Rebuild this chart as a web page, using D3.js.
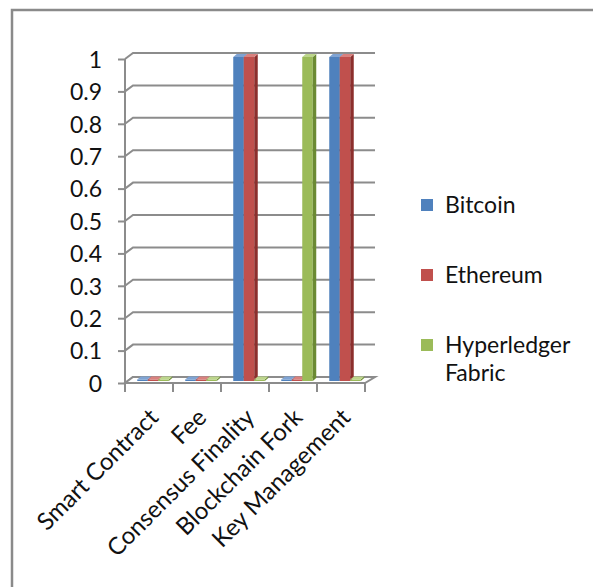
<!DOCTYPE html>
<html>
<head>
<meta charset="utf-8">
<script src="https://cdn.jsdelivr.net/npm/d3@7"></script>
<style>
  body { margin: 0; background: #fff; }
  text { font-family: Lato, "Open Sans", sans-serif; fill: #111; }
</style>
</head>
<body>
<div id="body"></div>
<script>
// chart data
var categories = ["Smart Contract", "Fee", "Consensus Finality", "Blockchain Fork", "Key Management"];
var seriesNames = ["Bitcoin", "Ethereum", "Hyperledger Fabric"];
var bitcoin = [0, 0, 1, 0, 1];
var ethereum = [0, 0, 1, 0, 1];
var hyperledger = [0, 0, 0, 1, 0];
var yTicks = [0, 0.1, 0.2, 0.3, 0.4, 0.5, 0.6, 0.7, 0.8, 0.9, 1];

var width = 593, height = 587;
var colors = { front: ["#4F81BD", "#C0504D", "#9BBB59"],
               side:  ["#2F5A8C", "#8C2F2D", "#6B8A33"],
               top:   ["#7FA3D3", "#D9817E", "#BCD58B"] };

// 3d depth of the back wall and of the bars
var DX = 8, DY = -6;
var barOff = [2, -2], barDepth = [3.5, -3];

var svg = d3.select('#body')
  .append('svg')
  .attr('width', width)
  .attr('height', height);

// frame (cropped chart border)
svg.append('path')
  .attr('d', 'M12,' + height + 'V10H' + width)
  .style('fill', 'none')
  .style('stroke', '#8a8a8a')
  .style('stroke-width', 2.5);

var x = d3.scaleBand().domain(categories).range([125, 365]);
var xs = d3.scaleBand().domain(seriesNames).range([0, 31.5]);
var y = d3.scaleLinear().domain([0, 1]).range([383, 59]);
var clusterLeft = (x.bandwidth() - xs.range()[1]) / 2 + 2;

var chart = svg.append('g').attr('id', 'chart');

// back wall gridlines + diagonal connectors
chart.selectAll('.grid')
  .data(yTicks)
  .enter()
  .append('path')
  .attr('class', 'grid')
  .attr('d', function(d) {
    return 'M125,' + y(d) + 'L' + (125 + DX) + ',' + (y(d) + DY) + 'H' + (x.range()[1] + DX + 2);
  })
  .style('fill', 'none')
  .style('stroke', '#8c8c8c')
  .style('stroke-width', 2);

// floor
chart.append('path')
  .attr('d', 'M125,' + y(0) + 'L' + (125 + DX) + ',' + (y(0) + DY) +
             'H' + (x.range()[1] + DX + 2) + 'L' + x.range()[1] + ',' + y(0) + 'Z')
  .style('fill', '#fff')
  .style('stroke', '#8c8c8c')
  .style('stroke-width', 2);

// y axis
var yAxis = chart.append('g')
  .attr('transform', 'translate(125,0)')
  .call(d3.axisLeft(y).tickValues(yTicks).tickSize(7).tickPadding(16)
        .tickFormat(function(d) { return d3.format('~g')(d); }));
yAxis.selectAll('line, path').style('stroke', '#8c8c8c').style('stroke-width', 2);
yAxis.select('.domain').attr('d', 'M0,' + y(1) + 'V' + (y(0) + 1));
yAxis.selectAll('text')
  .style('font-size', '23px')
  .style('font-family', 'Lato, sans-serif')
  .style('fill', '#111')
  .attr('dy', '0.36em');

// category ticks at band edges
var edges = categories.map(function(c) { return x(c); }).concat([x.range()[1]]);
chart.selectAll('.ctick')
  .data(edges)
  .enter()
  .append('line')
  .attr('x1', function(d) { return d; })
  .attr('x2', function(d) { return d; })
  .attr('y1', y(0))
  .attr('y2', y(0) + 9)
  .style('stroke', '#8c8c8c')
  .style('stroke-width', 2);

// bars
var rows = [];
[bitcoin, ethereum, hyperledger].forEach(function(vals, s) {
  vals.forEach(function(v, i) {
    rows.push({ cat: categories[i], s: s, name: seriesNames[s], v: v });
  });
});

var bar = chart.selectAll('.bar')
  .data(rows)
  .enter()
  .append('g')
  .attr('class', 'bar');

function bx(d) { return x(d.cat) + clusterLeft + xs(d.name) + barOff[0]; }
function btop(d) { return y(d.v) + barOff[1]; }
function bbot(d) { return y(0) + barOff[1]; }

bar.append('rect')
  .attr('x', bx)
  .attr('y', function(d) { return Math.min(btop(d), bbot(d) - 1.5); })
  .attr('width', xs.bandwidth())
  .attr('height', function(d) { return Math.max(bbot(d) - btop(d), 1.5); })
  .style('fill', function(d) { return colors.front[d.s]; });

bar.append('path')
  .attr('d', function(d) {
    var x0 = bx(d) + xs.bandwidth(), t = Math.min(btop(d), bbot(d) - 1.5), b = bbot(d);
    return 'M' + x0 + ',' + t + 'l' + barDepth[0] + ',' + barDepth[1] +
           'V' + (b + barDepth[1]) + 'L' + x0 + ',' + b + 'Z';
  })
  .style('fill', function(d) { return colors.side[d.s]; });

bar.append('path')
  .attr('d', function(d) {
    var x0 = bx(d), t = Math.min(btop(d), bbot(d) - 1.5), w = xs.bandwidth();
    return 'M' + x0 + ',' + t + 'l' + barDepth[0] + ',' + barDepth[1] +
           'h' + w + 'l' + (-barDepth[0]) + ',' + (-barDepth[1]) + 'Z';
  })
  .style('fill', function(d) { return colors.top[d.s]; });

// category labels
chart.selectAll('.clabel')
  .data(categories)
  .enter()
  .append('text')
  .attr('class', 'clabel')
  .attr('transform', function(d) {
    return 'translate(' + (x(d) + x.bandwidth() / 2 + 5) + ',' + (y(0) + 30) + ') rotate(-45)';
  })
  .attr('text-anchor', 'end')
  .attr('dy', '0.35em')
  .style('font-size', '24px')
  .text(function(d) { return d; });

// legend
var legendLabels = [["Bitcoin"], ["Ethereum"], ["Hyperledger", "Fabric"]];
var legend = svg.selectAll('.legend')
  .data(seriesNames)
  .enter()
  .append('g')
  .attr('class', 'legend')
  .attr('transform', function(d, i) { return 'translate(421,' + (205 + i * 70) + ')'; });

legend.append('rect')
  .attr('x', 0)
  .attr('y', -6)
  .attr('width', 12)
  .attr('height', 12)
  .style('fill', function(d, i) { return colors.front[i]; });

legend.append('text')
  .attr('x', 24)
  .attr('y', 0)
  .style('font-size', '23px')
  .selectAll('tspan')
  .data(function(d, i) { return legendLabels[i]; })
  .enter()
  .append('tspan')
  .attr('x', 24)
  .attr('dy', function(d, j) { return j === 0 ? '0.36em' : '1.2em'; })
  .text(function(d) { return d; });
</script>
</body>
</html>
